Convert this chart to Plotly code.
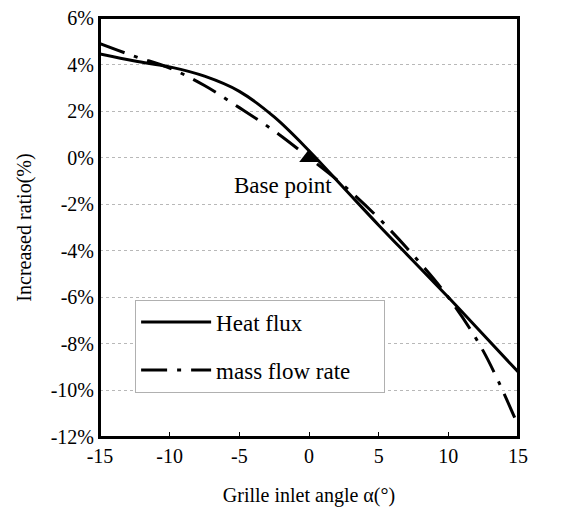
import plotly.graph_objects as go

angle = [-15, -12.5, -10, -7.5, -5, -2.5, 0, 2.5, 5, 7.5, 10, 12.5, 15]
heat_flux = [4.45, 4.15, 3.9, 3.5, 2.85, 1.75, 0.3, -1.3, -2.9, -4.45, -6.0, -7.6, -9.2]
mass_flow = [4.9, 4.35, 3.85, 3.1, 2.15, 1.15, 0.0, -1.2, -2.6, -4.2, -6.0, -8.3, -11.5]
y_ticks = [6, 4, 2, 0, -2, -4, -6, -8, -10, -12]
y_labels = ["6%", "4%", "2%", "0%", "-2%", "-4%", "-6%", "-8%", "-10%", "-12%"]
x_ticks = [-15, -10, -5, 0, 5, 10, 15]
x_labels = ["-15", "-10", "-5", "0", "5", "10", "15"]
base_x = [0]
base_y = [0]

font = "Liberation Serif, Times New Roman, serif"
fs = 20
fs_big = 23

fig = go.Figure()
fig.add_trace(go.Scatter(x=angle, y=heat_flux, mode="lines", name="Heat flux",
                         line=dict(color="black", width=3, shape="spline"),
                         legendgroup="a"))
fig.add_trace(go.Scatter(x=angle, y=mass_flow, mode="lines",
                         name="mass flow rate\u00a0\u00a0\u00a0\u00a0\u00a0",
                         line=dict(color="black", width=3, shape="spline",
                                   dash="26px,10px,4px,10px"),
                         legendgroup="b"))
fig.add_trace(go.Scatter(x=base_x, y=base_y, mode="markers", showlegend=False,
                         marker=dict(symbol="triangle-up", size=17, color="black")))
fig.add_annotation(x=-1.9, y=-1.2, text="Base point", showarrow=False,
                   font=dict(family=font, size=fs_big, color="black"))
fig.add_shape(type="rect", xref="paper", yref="paper", x0=0, x1=1, y0=0, y1=1,
              line=dict(color="black", width=2), layer="above")

fig.update_layout(
    width=566, height=509,
    margin=dict(l=92, r=56, t=10, b=80),
    paper_bgcolor="white", plot_bgcolor="white",
    font=dict(family=font, size=fs, color="black"),
    showlegend=True,
    legend=dict(x=0.084, y=0.328, xanchor="left", yanchor="top",
                bgcolor="white", bordercolor="#b0b0b0", borderwidth=1,
                tracegroupgap=15, itemwidth=70,
                font=dict(family=font, size=fs_big, color="black")),
    xaxis=dict(range=[-15, 15], tickvals=x_ticks, ticktext=x_labels, showgrid=False,
               showline=True, linecolor="black", linewidth=2, mirror=True,
               ticks="inside", ticklen=5, tickcolor="black", zeroline=False,
               automargin=False, ticklabeloverflow="allow",
               title=dict(text="Grille inlet angle α(°)", font=dict(family=font, size=fs),
                          standoff=22)),
    yaxis=dict(range=[-12, 6], tickvals=y_ticks, ticktext=y_labels,
               showgrid=True, gridcolor="#b8b8b8", griddash="dot", gridwidth=1,
               showline=True, linecolor="black", linewidth=2, mirror=True,
               ticks="", zeroline=False, automargin=False, ticklabeloverflow="allow",
               title=dict(text="Increased ratio(%)", font=dict(family=font, size=fs),
                          standoff=14)),
)

fig.write_html("out.html")
